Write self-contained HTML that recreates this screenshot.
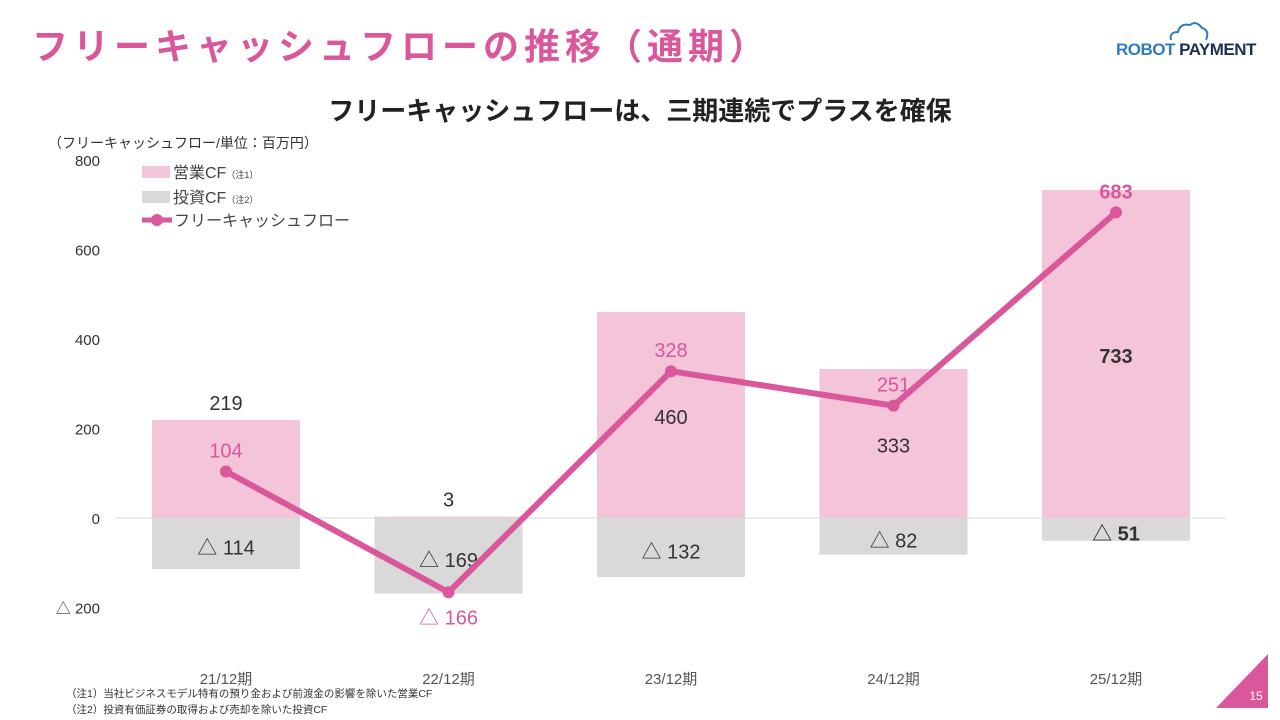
<!DOCTYPE html>
<html><head><meta charset="utf-8">
<style>
body{margin:0;width:1280px;height:720px;background:#fff;font-family:"Liberation Sans","Noto Sans CJK JP",sans-serif;overflow:hidden;position:relative}
.abs{position:absolute}
</style></head>
<body>
<div class="abs" style="left:32px;top:18px;font-size:36px;font-weight:bold;color:#d9579a;letter-spacing:5px">フリーキャッシュフローの推移（通期）</div>
<div class="abs" style="left:1116px;top:40px;font-size:17px;font-weight:bold;letter-spacing:-0.5px"><span style="color:#2e7cc0">ROBOT</span> <span style="color:#1d3050">PAYMENT</span></div>
<svg class="abs" style="left:1166px;top:20px" width="45" height="22"><path d="M5 20 Q3 12 12 12 Q14 3 24 5 Q30 0 36 8 Q44 10 40 20" fill="none" stroke="#2e7cc0" stroke-width="2"/></svg>
<div class="abs" style="left:0;width:1280px;top:91px;text-align:center;font-size:26px;font-weight:bold;color:#222">フリーキャッシュフローは、三期連続でプラスを確保</div>
<div class="abs" style="left:48px;top:133px;font-size:14px;color:#333">（フリーキャッシュフロー/単位：百万円）</div>
<svg class="abs" style="left:0;top:0" width="1280" height="720" id="chart"></svg>
<div class="abs" style="left:66px;top:686px;font-size:10.5px;color:#333">（注1）当社ビジネスモデル特有の預り金および前渡金の影響を除いた営業CF</div>
<div class="abs" style="left:66px;top:702px;font-size:10.5px;color:#333">（注2）投資有価証券の取得および売却を除いた投資CF</div>
<svg class="abs" style="left:1216px;top:654px" width="52" height="54"><polygon points="52,0 52,54 0,54" fill="#d9579a"/><text x="40" y="46" font-size="12" fill="#fff" text-anchor="middle" font-family="Liberation Sans">15</text></svg>
<script>
const categories=["21/12期","22/12期","23/12期","24/12期","25/12期"];
const opCF=[219,3,460,333,733];
const invCF=[-114,-169,-132,-82,-51];
const fcf=[104,-166,328,251,683];
const yTicks=[800,600,400,200,0,-200];
const NS="http://www.w3.org/2000/svg";
const svg=document.getElementById('chart');
const y=v=>518-v*0.4475;
const x=i=>226+i*222.5;
const bw=148;
function mk(t,a,txt){const e=document.createElementNS(NS,t);for(const k in a)e.setAttribute(k,a[k]);if(txt!==undefined)e.textContent=txt;svg.appendChild(e);return e;}
const fmt=v=>v<0?"△ "+(-v):String(v);
yTicks.forEach(t=>{const e=mk('text',{x:100,y:y(t)+6,'text-anchor':'end','font-size':15,fill:'#333'},t<0?"△ "+(-t):t);

});
categories.forEach((c,i)=>{
const b1=mk('rect',{x:x(i)-bw/2,y:y(Math.max(opCF[i],0)),width:bw,height:Math.abs(y(opCF[i])-y(0)),fill:'#f4c4d9'});


const b2=mk('rect',{x:x(i)-bw/2,y:y(0),width:bw,height:y(invCF[i])-y(0),fill:'#d9d9d9'});


const xl=mk('text',{x:x(i),y:684,'text-anchor':'middle','font-size':15,fill:'#555'},c);


});
const ax=mk('line',{x1:115,x2:1226,y1:y(0),y2:y(0),stroke:'#d9d9d9','stroke-width':1});


categories.forEach((c,i)=>{
const last=i===categories.length-1;
const oy=opCF[i]<250?y(opCF[i])-10:y(opCF[i]/2)+9;
const t1=mk('text',{x:x(i),y:oy,'text-anchor':'middle','font-size':20,fill:'#333','font-weight':last?'bold':'normal'},fmt(opCF[i]));


const t2=mk('text',{x:x(i),y:y(invCF[i]/2)+11,'text-anchor':'middle','font-size':20,fill:'#333','font-weight':last?'bold':'normal'},fmt(invCF[i]));


});
const pl=mk('polyline',{points:fcf.map((v,i)=>x(i)+','+y(v)).join(' '),fill:'none',stroke:'#d9579a','stroke-width':6,'stroke-linejoin':'round'});


fcf.forEach((v,i)=>{
const last=i===fcf.length-1;
const p=mk('circle',{cx:x(i),cy:y(v),r:6,fill:'#d9579a'});


const t=mk('text',{x:x(i),y:v<0?y(v)+32:y(v)-14,'text-anchor':'middle','font-size':20,fill:'#d9579a','font-weight':last?'bold':'normal'},fmt(v));


});
const l1=mk('rect',{x:142,y:166,width:28,height:12,fill:'#f4c4d9'});


const lt1=mk('text',{x:173,y:178,'font-size':16,fill:'#444'});lt1.innerHTML='営業CF<tspan font-size="9">（注1）</tspan>';


const l2=mk('rect',{x:142,y:191,width:28,height:12,fill:'#d9d9d9'});


const lt2=mk('text',{x:173,y:203,'font-size':16,fill:'#444'});lt2.innerHTML='投資CF<tspan font-size="9">（注2）</tspan>';


const l3=mk('line',{x1:142,x2:172,y1:220,y2:220,stroke:'#d9579a','stroke-width':5});


const l3c=mk('circle',{cx:157,cy:220,r:6,fill:'#d9579a'});


const lt3=mk('text',{x:174,y:226,'font-size':16,fill:'#444'},'フリーキャッシュフロー');


</script>
</body></html>
